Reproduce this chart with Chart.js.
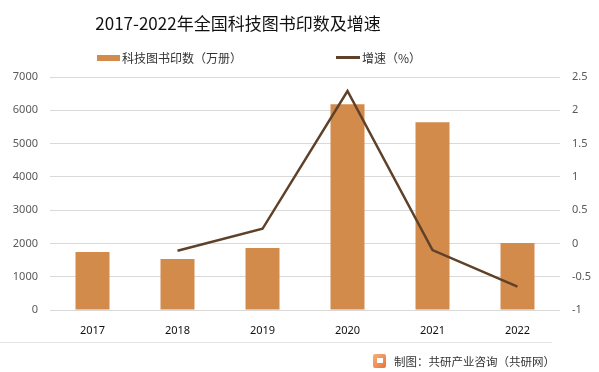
<!DOCTYPE html>
<html lang="zh">
<head>
<meta charset="UTF-8">
<title>2017-2022年全国科技图书印数及增速</title>
<script src="https://cdn.jsdelivr.net/npm/chart.js"></script>
<style>
  body { margin: 0; background: #fff; font-family: "Noto Sans CJK SC", "Noto Sans", sans-serif; }
  .wrap { position: relative; width: 599px; height: 372px; overflow: hidden; }
  #chart { position: absolute; left: 0; top: 0; }
  .title { position: absolute; left: 0; width: 476px; top: 10px; text-align: center; font-size: 17px; color: #111; }
  .legend { position: absolute; top: 49px; font-size: 12px; color: #333; display: flex; align-items: center; }
  .legend .box { width: 23px; height: 6px; background: #d38b4c; margin-right: 2px; }
  .legend .ln { width: 24px; height: 3px; background: #5e4128; margin-right: 2px; }
  .sep { position: absolute; left: 0; top: 342px; width: 552px; height: 1px; background: #e3e3e3; }
  .source { position: absolute; left: 373px; top: 353px; font-size: 11.5px; color: #333; display: flex; align-items: center; }
  .logo { width: 13px; height: 14px; background: linear-gradient(135deg, #f7b07a, #e8743b); border-radius: 2px; margin-right: 8px; position: relative; }
  .logo::after { content: ""; position: absolute; left: 4px; top: 4px; width: 6px; height: 5px; background: #fff; }
</style>
</head>
<body>
<div class="wrap">
  <canvas id="chart" width="599" height="372"></canvas>
  <div class="title">2017-2022年全国科技图书印数及增速</div>
  <div class="legend" style="left:97px"><span class="box"></span>科技图书印数（万册）</div>
  <div class="legend" style="left:336px"><span class="ln"></span>增速（%）</div>
  <div class="sep"></div>
  <div class="source"><span class="logo"></span>制图：共研产业咨询（共研网）</div>
</div>
<script>
const years = ["2017", "2018", "2019", "2020", "2021", "2022"];
const printCounts = [1740, 1530, 1860, 6180, 5640, 2010];
const growthRates = [null, -0.11, 0.22, 2.29, -0.10, -0.65];
const leftTicks = [0, 1000, 2000, 3000, 4000, 5000, 6000, 7000];
const rightTicks = [-1, -0.5, 0, 0.5, 1, 1.5, 2, 2.5];

const tickFont = { family: "'Noto Sans', sans-serif", size: 11 };

new Chart(document.getElementById("chart"), {
  data: {
    labels: years,
    datasets: [
      {
        type: "line",
        label: "增速（%）",
        data: growthRates,
        yAxisID: "y2",
        borderColor: "#5e4128",
        borderWidth: 2.5,
        pointRadius: 0,
        tension: 0,
        order: 0
      },
      {
        type: "bar",
        label: "科技图书印数（万册）",
        data: printCounts,
        yAxisID: "y",
        backgroundColor: "#d38b4c",
        categoryPercentage: 1,
        barPercentage: 0.4,
        order: 1
      }
    ]
  },
  options: {
    responsive: false,
    animation: false,
    layout: { padding: { left: 0, right: 0, top: 77, bottom: 30 } },
    plugins: { legend: { display: false }, tooltip: { enabled: false } },
    scales: {
      x: {
        grid: { display: false },
        border: { display: false },
        ticks: { color: "#111", font: tickFont, padding: 6 },
        afterFit: s => { s.height = 32; }
      },
      y: {
        position: "left",
        min: 0, max: 7000,
        afterBuildTicks: s => { s.ticks = leftTicks.map(v => ({ value: v })); },
        grid: { color: "#d9d9d9", drawTicks: false },
        border: { display: false },
        ticks: { color: "#595959", font: tickFont, padding: 12, callback: v => String(v) },
        afterFit: s => { s.width = 50; }
      },
      y2: {
        position: "right",
        min: -1, max: 2.5,
        afterBuildTicks: s => { s.ticks = rightTicks.map(v => ({ value: v })); },
        ticks: { color: "#595959", font: tickFont, padding: 12, callback: v => String(v) },
        grid: { display: false, drawTicks: false },
        border: { display: false },
        afterFit: s => { s.width = 39; }
      }
    }
  }
});
</script>
</body>
</html>
